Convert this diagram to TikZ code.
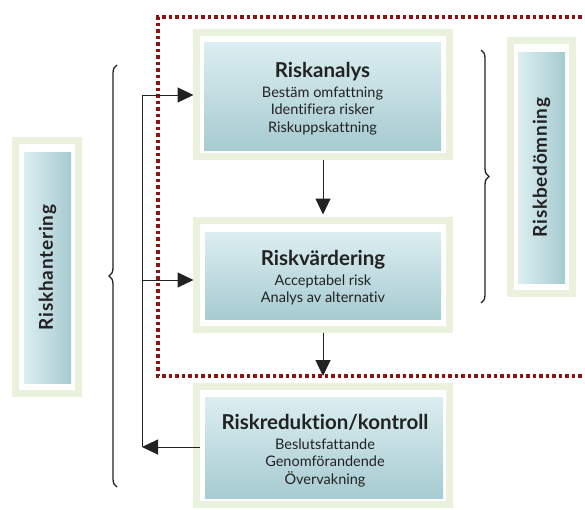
\documentclass[tikz,border=0pt]{standalone}
\usepackage{fontspec}
\setmainfont{Lato}[Ligatures=NoCommon]
\newfontfamily\spacedfont[LetterSpace=4,Ligatures=NoCommon]{Lato}
\usetikzlibrary{arrows.meta,decorations.pathreplacing}
\definecolor{frame}{HTML}{EAF1DD}
\definecolor{topc}{HTML}{DCEEF1}
\definecolor{botc}{HTML}{A6CBD1}
\definecolor{dred}{HTML}{8E1414}
\definecolor{ink}{HTML}{222222}
\newcommand{\ttlfont}{\fontsize{20.5}{24}\selectfont\bfseries}
\begin{document}
\begin{tikzpicture}[x=1pt,y=-1pt,
  outerbox/.style={draw=frame, line width=7pt, fill=white, inner sep=0pt, outer sep=0pt},
  innerbox/.style={top color=topc, bottom color=botc, draw=none, inner sep=0pt, outer sep=0pt},
  txt/.style={anchor=north, inner sep=0pt, align=center, text=ink, font=\fontsize{14.5}{17.5}\selectfont},
  sideinner/.style={left color=topc, right color=botc, draw=none, inner sep=0pt, outer sep=0pt, text=ink},
  arr/.style={draw=ink, line width=1pt, -{Triangle[length=16pt,width=15pt]}},
  cline/.style={draw=ink, line width=1pt},
  brc/.style={draw=ink, line width=1.3pt, decorate, decoration={brace, amplitude=8pt}},
  dotline/.style={draw=dred, line width=3.5pt, dash pattern=on 3.5pt off 3pt}
]
\clip (0,0) rectangle (585,509);
\fill[white] (0,0) rectangle (585,509);

% dotted region
\draw[dotline] (640,17) -- (158,17) -- (158,376) -- (640,376);

% Riskanalys
\node[outerbox, minimum width=253pt, minimum height=124pt] (anaO) at (323,94.5) {};
\node[innerbox, minimum width=237pt, minimum height=108pt] (ana) at (322.5,96) {};
\node[txt] (anaT) at (322.5,62)
  {{\ttlfont Riskanalys}\\[2.5pt] Bestäm omfattning\\ Identifiera risker\\ Riskuppskattning};

% Riskvärdering
\node[outerbox, minimum width=253pt, minimum height=109pt] (evaO) at (323,275) {};
\node[innerbox, minimum width=236pt, minimum height=87pt] (eva) at (323,275.5) {};
\node[txt] (evaT) at (323,250)
  {{\ttlfont Riskvärdering}\\[2.5pt] Acceptabel risk\\ Analys av alternativ};

% Riskreduktion
\node[outerbox, minimum width=253pt, minimum height=118pt] (redO) at (323,445.5) {};
\node[innerbox, minimum width=238pt, minimum height=101pt] (red) at (324,447.5) {};
\node[txt] (redT) at (325,414)
  {{\ttlfont Riskreduktion/kontroll}\\[2.5pt] Beslutsfattande\\ Genomförandende\\ Övervakning};

% Riskhantering
\node[outerbox, minimum width=63pt, minimum height=253pt] (hanO) at (47,267) {};
\node[sideinner, minimum width=47pt, minimum height=231pt] (han) at (47.5,267.5)
  {\rotatebox{90}{\spacedfont\fontsize{19}{24}\selectfont\bfseries Riskhantering}};

% Riskbedömning
\node[outerbox, minimum width=62pt, minimum height=253pt] (bedO) at (541.5,167) {};
\node[sideinner, minimum width=47pt, minimum height=231pt] (bed) at (541.5,167.5)
  {\rotatebox{90}{\spacedfont\fontsize{19}{24}\selectfont\bfseries Riskbedömning}};

% braces
\coordinate (lbB) at (117,487);
\coordinate (lbT) at (117,65);
\draw[brc] (lbB) -- (lbT);
\coordinate (rbT) at (481,50);
\coordinate (rbB) at (481,303);
\draw[brc] (rbT) -- (rbB);

% connectors
\coordinate (vt) at (142,95);
\coordinate (vm) at (142,280);
\coordinate (vb) at (142,447);
\draw[cline] (vt) -- (vb);
\draw[arr, shorten >=3pt] (vt) -- (anaO.west |- vt);
\draw[arr, shorten >=3pt] (vm) -- (evaO.west |- vm);
\draw[arr, shorten <=-3pt] (redO.west |- vb) -- (vb);
\draw[arr, shorten <=3pt, shorten >=6pt] (anaO.south) -- (evaO.north);
\coordinate (dl) at (323,376);
\draw[arr, shorten <=3pt] (evaO.south) -- (dl);
\end{tikzpicture}
\end{document}
